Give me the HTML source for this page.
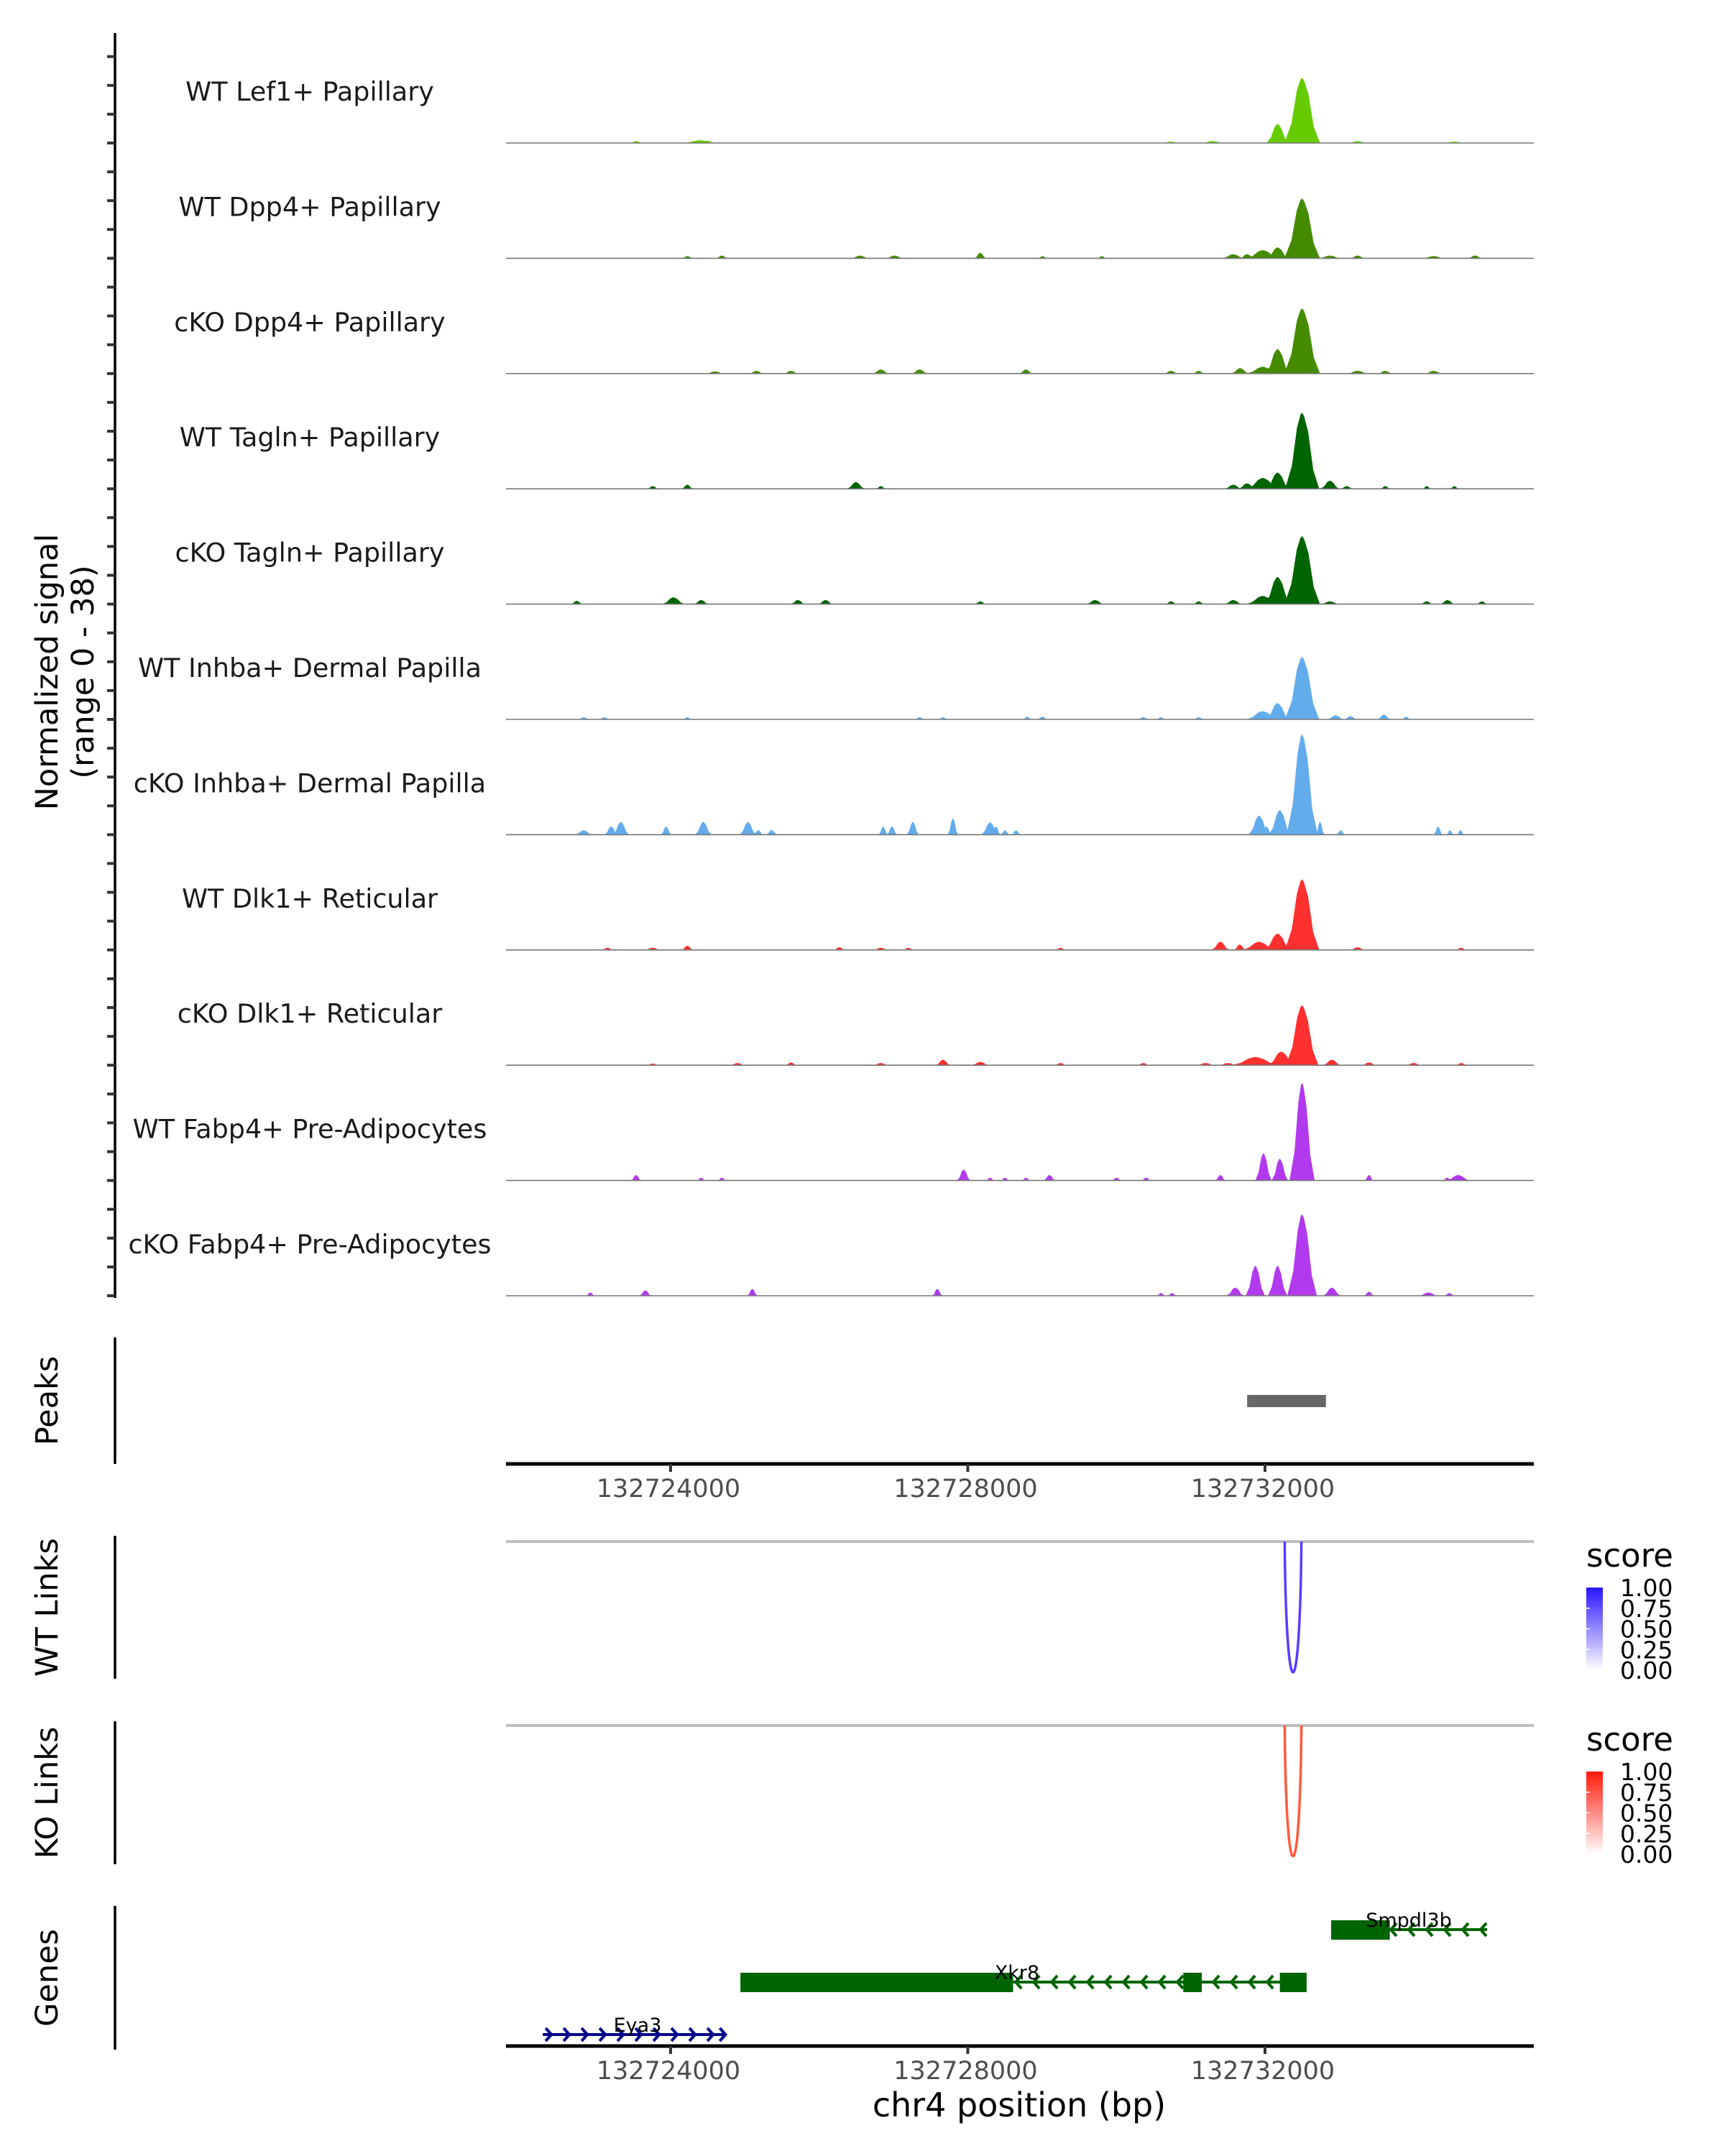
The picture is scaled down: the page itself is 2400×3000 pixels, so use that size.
<!DOCTYPE html>
<html><head><meta charset="utf-8"><style>
html,body{margin:0;padding:0;background:#fff;}
svg{display:block;font-family:"DejaVu Sans","Liberation Sans",sans-serif;}
</style></head><body>
<svg id="chart" width="2400" height="3000" viewBox="0 0 2400 3000" xmlns="http://www.w3.org/2000/svg">
<defs>
<linearGradient id="gBlue" x1="0" y1="1" x2="0" y2="0"><stop offset="0" stop-color="#ffffff"/><stop offset="1" stop-color="#2a14ff"/></linearGradient>
<linearGradient id="gRed" x1="0" y1="1" x2="0" y2="0"><stop offset="0" stop-color="#ffffff"/><stop offset="1" stop-color="#ff1a0a"/></linearGradient>
</defs>
<g id="root"></g>
</svg>
<script>
// ---- data ----
const regionStart = 132721785;
const regionEnd = 132735618;
const xTicks = [132724000, 132728000, 132732000];
const trackNames = ["WT Lef1+ Papillary","WT Dpp4+ Papillary","cKO Dpp4+ Papillary","WT Tagln+ Papillary","cKO Tagln+ Papillary","WT Inhba+ Dermal Papilla","cKO Inhba+ Dermal Papilla","WT Dlk1+ Reticular","cKO Dlk1+ Reticular","WT Fabp4+ Pre-Adipocytes","cKO Fabp4+ Pre-Adipocytes"];
const trackColors = ["#66cc00","#458b00","#458b00","#006400","#006400","#63acec","#63acec","#ff3030","#ff3030","#b23aee","#b23aee"];
const signalMax = 38;
// bumps per track: centre (bp), half-width (bp), height (signal units)
const bumpPos = [
 [132732500,132732170,132723537,132724400,132724500,132730735,132731293,132733246,132734548],
 [132732500,132732170,132731970,132724225,132724690,132726550,132727015,132728168,132729005,132729805,132731572,132731758,132732874,132733246,132734269,132734827],
 [132732500,132732170,132731970,132724597,132725155,132725620,132726829,132727350,132728782,132730735,132731107,132731665,132733246,132733618,132734269],
 [132732500,132732170,132731970,132723760,132724225,132726494,132726829,132731572,132731758,132732874,132733100,132733618,132734176,132734548],
 [132732500,132732170,132731970,132722737,132724039,132724411,132725713,132726085,132728168,132729712,132730735,132731107,132731572,132732874,132734176,132734455,132734920],
 [132732500,132732170,132731970,132722830,132723109,132724225,132727350,132727666,132728800,132729005,132730363,132730600,132731107,132732950,132733150,132733600,132733900],
 [132732500,132732200,132731920,132722830,132723200,132723330,132723940,132724440,132725040,132725180,132725360,132726860,132726980,132727260,132727800,132728300,132728380,132728500,132728650,132732020,132732740,132733020,132734330,132734490,132734630],
 [132732500,132732170,132731920,132723150,132723760,132724225,132726270,132726829,132727200,132729247,132731400,132731660,132731970,132733246,132734641],
 [132732500,132732220,132731870,132723760,132724900,132725620,132726829,132727666,132728168,132729247,132730363,132731200,132731500,132732900,132733400,132734000,132734641],
 [132732500,132732200,132731980,132723537,132724411,132724690,132727945,132728300,132728500,132728782,132729100,132730000,132730400,132731400,132733400,132734450,132734600],
 [132732500,132732170,132731870,132722920,132723660,132725100,132727590,132730600,132730750,132731600,132732900,132733400,132734200,132734480]
];
const bumpHalf = [
 [240,150,80,250,90,120,150,120,150],
 [240,150,220,80,80,120,120,80,60,60,150,100,150,100,150,100],
 [240,170,220,120,100,100,110,110,90,100,80,120,150,100,120],
 [230,160,220,80,80,120,70,120,120,130,90,70,60,60],
 [240,180,220,80,150,100,100,100,80,120,80,80,120,130,90,100,80],
 [230,160,220,80,70,60,70,60,60,70,80,60,70,110,90,90,60],
 [210,150,140,120,90,110,70,110,110,70,80,60,70,80,70,120,60,60,60,70,60,60,60,50,50],
 [230,180,220,80,100,80,80,100,70,70,120,80,120,100,70],
 [220,180,320,80,100,80,100,100,120,80,80,120,120,120,100,100,80],
 [170,110,110,70,60,60,90,60,60,60,80,70,70,70,60,60,160],
 [200,130,130,60,80,70,70,60,60,120,120,70,130,70]
];
const bumpHeight = [
 [24,7,0.7,1,0.8,0.5,0.7,0.7,0.5],
 [22,4,3,0.8,1,1,1,2,0.8,0.8,1.5,1.5,1,1,0.8,1],
 [24,9,2.5,0.8,1,1,1.5,1.5,1.5,1,1,2,1,1,1],
 [28,6,4,1,1.5,2.5,1,1.5,2,3,1,1,1,1],
 [25,10,3,1.2,2.5,1.5,1.5,1.5,1,1.5,1,1,1.5,1,1,1.5,1],
 [23,6,3,0.8,0.8,0.8,0.8,0.8,1,1,0.8,0.8,0.8,1.5,1.2,1.8,1],
 [37,9,7,1.6,3,4.7,3,4.7,4.7,1.6,1.6,3,3,4.7,6,4.5,3,1.6,1.6,3,4.7,1.6,3,1.6,1.6],
 [26,6,3,0.8,0.8,1.5,1,0.8,0.8,0.8,3,2,2,1,0.8],
 [22,5,3,0.6,0.8,1,0.8,2,1.2,0.8,0.8,0.8,0.8,2,1,0.8,0.8],
 [36,8,10,2,1,1,4,1,1,1,2,1,1,2,2,1,2],
 [30,11,11,1.2,2,2.5,2.5,1,1,3,3,1.5,1.2,1]
];
const peakStarts = [132731760];
const peakEnds = [132732820];
const linkStarts = [132732265, 132732265];
const linkEnds = [132732490, 132732490];
const linkScores = [0.78, 0.78];
const legendTicks = ["1.00","0.75","0.50","0.25","0.00"];
const geneNames = ["Smpdl3b","Xkr8","Eya3"];
const geneStarts = [132732890, 132724940, 132722280];
const geneEnds = [132734990, 132732560, 132724720];
const geneStrand = ["-","-","+"];
const geneRows = [0,1,2];
const exonStarts = [[132732890],[132724940,132730900,132732200],[]];
const exonEnds = [[132733680],[132728610,132731150,132732560],[]];
const geneColors = ["#006400","#006400","#00008b"];

// ---- scales ----
const X0 = 704, X1 = 2134;
function xs(bp){ return X0 + (bp - regionStart) / (regionEnd - regionStart) * (X1 - X0); }
const trackBase0 = 199, trackStep = 160.4, trackH = 144;
function ys(i, v){ return trackBase0 + i*trackStep - v / signalMax * trackH; }

const NS = "http://www.w3.org/2000/svg";
const root = document.getElementById("root");
function mk(tag, attrs, parent){
  const e = document.createElementNS(NS, tag);
  for (const k in attrs) e.setAttribute(k, attrs[k]);
  (parent||root).appendChild(e); return e;
}

// y axis + ticks
const yAxis = mk("line",{x1:160,y1:46,x2:160,y2:1806,stroke:"#000","stroke-width":3.5});


for (let i=0;i<trackNames.length;i++){
  for (let k=0;k<4;k++){
    const y = trackBase0 + i*trackStep - k*(trackStep/4);
    const t = mk("line",{x1:149,y1:y,x2:160,y2:y,stroke:"#333","stroke-width":4});
    
    
  }
}
const yt = mk("text",{x:0,y:0,"font-size":43,"text-anchor":"middle",transform:"translate(80,935) rotate(-90)",fill:"#000"});
yt.textContent = "Normalized signal";


const yt2 = mk("text",{x:0,y:0,"font-size":43,"text-anchor":"middle",transform:"translate(130,935) rotate(-90)",fill:"#000"});
yt2.textContent = "(range 0 - 38)";



// tracks
for (let i=0;i<trackNames.length;i++){
  const base = ys(i,0);
  const g = mk("g",{});
  
  
  const lab = mk("text",{x:431,y:base-59,"font-size":36.5,"text-anchor":"middle",fill:"#1a1a1a"},g);
  lab.textContent = trackNames[i];
  
  
  for (let j=0;j<bumpPos[i].length;j++){
    const c = bumpPos[i][j], hw = bumpHalf[i][j], h = bumpHeight[i][j];
    const pts = [[c-hw,0],[c-hw*0.6,h*0.3],[c-hw*0.3,h*0.8],[c-hw*0.1,h*0.97],[c,h],[c+hw*0.12,h*0.95],[c+hw*0.35,h*0.75],[c+hw*0.65,h*0.25],[c+hw,0]];
    const d = pts.map((p,k)=>(k?"L":"M")+xs(p[0]).toFixed(1)+","+ys(i,p[1]).toFixed(1)).join("")+"Z";
    const b = mk("path",{d:d,fill:trackColors[i]},g);
    
    
  }
  const bl = mk("line",{x1:X0,y1:base,x2:X1,y2:base,stroke:"#777","stroke-width":1.6},g);
  
  
}

// panel side axes & titles
const panels = [["Peaks",1861,2037,"peaks"],["WT Links",2137,2336,"wt-links"],["KO Links",2395,2594,"ko-links"],["Genes",2652,2852,"genes"]];
for (const p of panels){
  const l = mk("line",{x1:160,y1:p[1],x2:160,y2:p[2],stroke:"#000","stroke-width":3.5});
  
  
  const t = mk("text",{x:0,y:0,"font-size":43,"text-anchor":"middle",transform:"translate(80,"+((p[1]+p[2])/2)+") rotate(-90)",fill:"#000"});
  t.textContent = p[0];
  
  
}

// peaks
for (let j=0;j<peakStarts.length;j++){
  const r = mk("rect",{x:xs(peakStarts[j]),y:1941,width:xs(peakEnds[j])-xs(peakStarts[j]),height:17,fill:"#666"});
  
  
}

// x axes
function xAxis(y, name){
  const a = mk("line",{x1:X0,y1:y,x2:X1,y2:y,stroke:"#000","stroke-width":5});
  
  
  for (const t of xTicks){
    const tl = mk("line",{x1:xs(t),y1:y,x2:xs(t),y2:y+11,stroke:"#333","stroke-width":4});
    
    
    const tx = mk("text",{x:xs(t)-3,y:y+46,"font-size":35,"text-anchor":"middle",fill:"#4d4d4d"});
    tx.textContent = t;
    
    
  }
}
xAxis(2037,'peaks-x-axis');
xAxis(2847,'genes-x-axis');
const xt = mk("text",{x:1418,y:2945,"font-size":46,"text-anchor":"middle",fill:"#000"});
xt.textContent = "chr4 position (bp)";



// links
const linkTop = [2145, 2401];
const linkBottom = [2327, 2583];
const linkColor = ["#5a3cff","#ff5a3c"];
const grads = ["url(#gBlue)","url(#gRed)"];
for (let j=0;j<2;j++){
  const gl = mk("line",{x1:X0,y1:linkTop[j],x2:X1,y2:linkTop[j],stroke:"#bebebe","stroke-width":4});
  
  
  const a = xs(linkStarts[j]), b = xs(linkEnds[j]);
  const depth = (linkBottom[j]-linkTop[j]) * (1 + 0.333) ;
  const arc = mk("path",{d:`M${a},${linkTop[j]} C${a+2},${linkTop[j]+depth} ${b-2},${linkTop[j]+depth} ${b},${linkTop[j]}`,fill:"none",stroke:linkColor[j],"stroke-width":3.5});
  
  
  const lt = linkTop[j];
  const st = mk("text",{x:2207,y:lt+35,"font-size":45,fill:"#000"});
  st.textContent = "score";
  
  
  const barTop = lt+64, barH = 115;
  const bar = mk("rect",{x:2207,y:barTop,width:23,height:barH,fill:grads[j]});
  
  
  for (let k=0;k<legendTicks.length;k++){
    const yy = barTop + k*barH/4;
    const tk = mk("text",{x:2254,y:yy+12,"font-size":33,fill:"#000"});
    tk.textContent = legendTicks[k];
    
    
    if (k>0 && k<4){
      const w1 = mk("line",{x1:2207,y1:yy,x2:2212,y2:yy,stroke:"#fff","stroke-width":1.5});
      
      
    }
  }
}

// genes
const rowY = [2685, 2758, 2831];
for (let j=0;j<geneNames.length;j++){
  const y = rowY[geneRows[j]], col = geneColors[j];
  const g = mk("g",{});
  
  
  const a = xs(geneStarts[j]), b = xs(geneEnds[j]);
  const ln = mk("line",{x1:a,y1:y,x2:b,y2:y,stroke:col,"stroke-width":4},g);
  
  
  const step = 25;
  for (let x=a+10; x<=b-2; x+=step){
    const inEx = exonStarts[j].some((s,k)=> x>xs(s)-3 && x<xs(exonEnds[j][k])+3);
    if (inEx) continue;
    const d = geneStrand[j]==="+" ? `M${x-6},${y-9}L${x+2},${y}L${x-6},${y+9}` : `M${x+6},${y-9}L${x-2},${y}L${x+6},${y+9}`;
    const ch = mk("path",{d:d,fill:"none",stroke:col,"stroke-width":4},g);
    
    
  }
  if (geneStrand[j]==="+"){
    const ch = mk("path",{d:`M${b-6},${y-9}L${b+2},${y}L${b-6},${y+9}`,fill:"none",stroke:col,"stroke-width":4},g);
    
    
  }
  for (let k=0;k<exonStarts[j].length;k++){
    const ex = mk("rect",{x:xs(exonStarts[j][k]),y:y-13,width:xs(exonEnds[j][k])-xs(exonStarts[j][k]),height:27,fill:col},g);
    
    
  }
  const labX = [1960, 1415, 887][j];
  const lb = mk("text",{x:labX,y:y-4,"font-size":27,"text-anchor":"middle",fill:"#000"},g);
  lb.textContent = geneNames[j];
  
  
}
</script>
</body></html>
